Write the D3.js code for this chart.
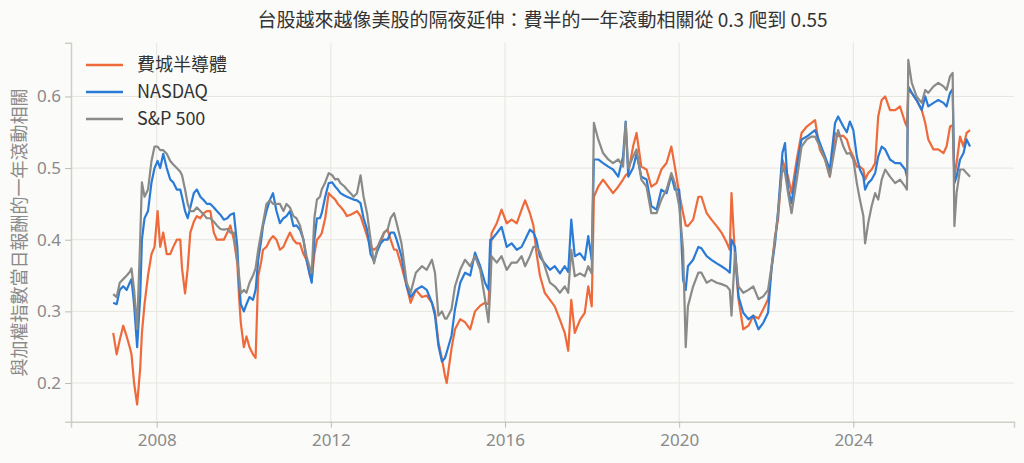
<!DOCTYPE html>
<html>
<head>
<meta charset="utf-8">
<script src="https://cdn.jsdelivr.net/npm/d3@7"></script>
<style>
  html, body { margin: 0; padding: 0; background: #fbfbf9; }
  svg { display: block; font-family: "Noto Sans CJK TC", "Noto Sans", sans-serif; }
</style>
</head>
<body>
<div class="chart"></div>
<script>
// decimal years
var years = [
  2007.00, 2007.08, 2007.15, 2007.23, 2007.31, 2007.38, 2007.42, 2007.48, 2007.55, 2007.62,
  2007.66, 2007.72, 2007.80, 2007.88, 2007.95, 2008.02, 2008.08, 2008.15, 2008.23, 2008.31,
  2008.38, 2008.46, 2008.54, 2008.58, 2008.65, 2008.71, 2008.77, 2008.85, 2008.92, 2009.00,
  2009.08, 2009.15, 2009.23, 2009.31, 2009.38, 2009.46, 2009.54, 2009.62, 2009.69, 2009.77,
  2009.85, 2009.89, 2009.93, 2010.00, 2010.06, 2010.13, 2010.21, 2010.27, 2010.33, 2010.40,
  2010.44, 2010.52, 2010.60, 2010.67, 2010.75, 2010.83, 2010.91, 2010.98, 2011.06, 2011.14,
  2011.21, 2011.29, 2011.37, 2011.44, 2011.52, 2011.56, 2011.62, 2011.68, 2011.75, 2011.79,
  2011.87, 2011.95, 2012.03, 2012.10, 2012.16, 2012.22, 2012.30, 2012.37, 2012.45, 2012.52,
  2012.60, 2012.68, 2012.75, 2012.83, 2012.91, 2012.99, 2013.07, 2013.14, 2013.22, 2013.30,
  2013.37, 2013.45, 2013.51, 2013.62, 2013.74, 2013.83, 2013.95, 2014.09, 2014.20, 2014.32,
  2014.39, 2014.47, 2014.55, 2014.62, 2014.66, 2014.77, 2014.85, 2014.97, 2015.08, 2015.20,
  2015.31, 2015.43, 2015.54, 2015.62, 2015.66, 2015.69, 2015.81, 2015.92, 2016.04, 2016.15,
  2016.27, 2016.38, 2016.46, 2016.57, 2016.65, 2016.72, 2016.80, 2016.91, 2017.03, 2017.14,
  2017.26, 2017.37, 2017.45, 2017.52, 2017.60, 2017.72, 2017.83, 2017.91, 2017.99, 2018.04,
  2018.14, 2018.25, 2018.37, 2018.48, 2018.60, 2018.71, 2018.77, 2018.83, 2018.94, 2019.02,
  2019.13, 2019.25, 2019.36, 2019.48, 2019.59, 2019.71, 2019.82, 2019.90, 2020.00, 2020.09,
  2020.15, 2020.20, 2020.32, 2020.44, 2020.51, 2020.63, 2020.74, 2020.86, 2020.97, 2021.09,
  2021.16, 2021.20, 2021.28, 2021.36, 2021.47, 2021.59, 2021.70, 2021.82, 2021.93, 2022.04,
  2022.12, 2022.20, 2022.27, 2022.37, 2022.43, 2022.50, 2022.58, 2022.70, 2022.81, 2022.93,
  2023.04, 2023.12, 2023.23, 2023.35, 2023.46, 2023.58, 2023.65, 2023.77, 2023.85, 2023.92,
  2024.00, 2024.08, 2024.15, 2024.23, 2024.27, 2024.34, 2024.42, 2024.50, 2024.57, 2024.65,
  2024.73, 2024.84, 2024.96, 2025.07, 2025.19, 2025.23, 2025.26, 2025.34, 2025.45, 2025.57,
  2025.65, 2025.72, 2025.84, 2025.95, 2026.07, 2026.14, 2026.22, 2026.28, 2026.32, 2026.37,
  2026.45, 2026.53, 2026.60, 2026.68
];

// 費城半導體
var sox = [
  0.270, 0.240, 0.260, 0.280, 0.265, 0.250, 0.240, 0.200, 0.170, 0.220,
  0.270, 0.310, 0.350, 0.380, 0.390, 0.440, 0.390, 0.410, 0.380, 0.380,
  0.390, 0.400, 0.400, 0.360, 0.325, 0.360, 0.410, 0.425, 0.433, 0.430,
  0.437, 0.440, 0.440, 0.410, 0.400, 0.400, 0.400, 0.410, 0.420, 0.400,
  0.367, 0.320, 0.284, 0.250, 0.265, 0.250, 0.240, 0.235, 0.349, 0.370,
  0.386, 0.390, 0.400, 0.405, 0.400, 0.386, 0.390, 0.400, 0.410, 0.400,
  0.395, 0.395, 0.380, 0.372, 0.350, 0.344, 0.380, 0.400, 0.405, 0.409,
  0.430, 0.465, 0.460, 0.456, 0.450, 0.446, 0.440, 0.433, 0.435, 0.437,
  0.440, 0.433, 0.420, 0.405, 0.390, 0.386, 0.390, 0.395, 0.410, 0.414,
  0.400, 0.386, 0.386, 0.363, 0.335, 0.312, 0.330, 0.320, 0.322, 0.312,
  0.300, 0.257, 0.234, 0.210, 0.200, 0.248, 0.275, 0.289, 0.285, 0.275,
  0.300, 0.308, 0.312, 0.310, 0.360, 0.409, 0.423, 0.442, 0.423, 0.428,
  0.423, 0.442, 0.455, 0.437, 0.420, 0.382, 0.350, 0.326, 0.316, 0.307,
  0.288, 0.270, 0.245, 0.316, 0.270, 0.288, 0.298, 0.335, 0.307, 0.460,
  0.474, 0.484, 0.474, 0.465, 0.474, 0.484, 0.490, 0.493, 0.530, 0.549,
  0.502, 0.498, 0.474, 0.479, 0.498, 0.507, 0.530, 0.502, 0.465, 0.437,
  0.420, 0.419, 0.428, 0.460, 0.460, 0.437, 0.428, 0.419, 0.410, 0.396,
  0.386, 0.465, 0.377, 0.317, 0.275, 0.280, 0.294, 0.290, 0.303, 0.317,
  0.360, 0.405, 0.428, 0.512, 0.500, 0.488, 0.465, 0.512, 0.549, 0.558,
  0.563, 0.567, 0.526, 0.512, 0.488, 0.549, 0.545, 0.545, 0.540, 0.526,
  0.516, 0.502, 0.502, 0.498, 0.484, 0.493, 0.498, 0.507, 0.572, 0.595,
  0.600, 0.581, 0.581, 0.586, 0.563, 0.558, 0.609, 0.605, 0.595, 0.581,
  0.563, 0.540, 0.526, 0.526, 0.521, 0.530, 0.558, 0.560, 0.488, 0.507,
  0.544, 0.530, 0.549, 0.553
];

// NASDAQ
var nasdaq = [
  0.312, 0.310, 0.330, 0.335, 0.330, 0.340, 0.345, 0.310, 0.250, 0.320,
  0.400, 0.430, 0.440, 0.480, 0.500, 0.510, 0.500, 0.520, 0.500, 0.484,
  0.480, 0.470, 0.470, 0.460, 0.440, 0.430, 0.445, 0.465, 0.470, 0.460,
  0.455, 0.450, 0.450, 0.445, 0.440, 0.435, 0.428, 0.430, 0.435, 0.437,
  0.390, 0.340, 0.310, 0.300, 0.310, 0.320, 0.316, 0.330, 0.372, 0.400,
  0.419, 0.440, 0.456, 0.465, 0.440, 0.423, 0.430, 0.433, 0.440, 0.419,
  0.420, 0.414, 0.400, 0.372, 0.350, 0.340, 0.400, 0.430, 0.430, 0.437,
  0.460, 0.479, 0.480, 0.474, 0.470, 0.465, 0.462, 0.460, 0.458, 0.456,
  0.455, 0.451, 0.430, 0.414, 0.380, 0.370, 0.385, 0.395, 0.400, 0.400,
  0.410, 0.410, 0.400, 0.377, 0.335, 0.320, 0.330, 0.335, 0.330, 0.312,
  0.294, 0.252, 0.230, 0.235, 0.243, 0.266, 0.303, 0.340, 0.354, 0.350,
  0.382, 0.363, 0.340, 0.330, 0.400, 0.400, 0.409, 0.418, 0.390, 0.395,
  0.386, 0.390, 0.400, 0.414, 0.410, 0.400, 0.376, 0.367, 0.358, 0.363,
  0.353, 0.363, 0.355, 0.428, 0.377, 0.381, 0.372, 0.405, 0.372, 0.512,
  0.512, 0.507, 0.502, 0.498, 0.488, 0.516, 0.565, 0.488, 0.500, 0.520,
  0.488, 0.484, 0.447, 0.442, 0.470, 0.465, 0.490, 0.470, 0.470, 0.344,
  0.330, 0.363, 0.372, 0.390, 0.388, 0.377, 0.372, 0.367, 0.363, 0.358,
  0.354, 0.400, 0.390, 0.321, 0.298, 0.289, 0.294, 0.275, 0.284, 0.298,
  0.360, 0.395, 0.440, 0.521, 0.535, 0.470, 0.451, 0.502, 0.540, 0.544,
  0.549, 0.553, 0.535, 0.516, 0.498, 0.563, 0.572, 0.558, 0.550, 0.565,
  0.553, 0.516, 0.498, 0.488, 0.470, 0.479, 0.484, 0.493, 0.516, 0.530,
  0.526, 0.512, 0.507, 0.507, 0.498, 0.488, 0.614, 0.605, 0.595, 0.581,
  0.600, 0.586, 0.591, 0.595, 0.591, 0.586, 0.605, 0.610, 0.479, 0.488,
  0.512, 0.521, 0.540, 0.530
];

// S&P 500
var spx = [
  0.324, 0.320, 0.340, 0.345, 0.350, 0.355, 0.360, 0.330, 0.275, 0.400,
  0.480, 0.460, 0.470, 0.510, 0.530, 0.530, 0.525, 0.525, 0.520, 0.510,
  0.505, 0.500, 0.495, 0.490, 0.470, 0.450, 0.440, 0.440, 0.445, 0.440,
  0.435, 0.430, 0.430, 0.425, 0.420, 0.415, 0.414, 0.415, 0.410, 0.410,
  0.370, 0.350, 0.325, 0.330, 0.326, 0.340, 0.350, 0.360, 0.386, 0.410,
  0.423, 0.450, 0.455, 0.450, 0.450, 0.450, 0.440, 0.450, 0.445, 0.433,
  0.430, 0.420, 0.400, 0.377, 0.360, 0.354, 0.430, 0.456, 0.460, 0.470,
  0.480, 0.493, 0.490, 0.484, 0.485, 0.479, 0.475, 0.470, 0.465, 0.460,
  0.465, 0.490, 0.460, 0.437, 0.400, 0.367, 0.390, 0.400, 0.410, 0.414,
  0.430, 0.437, 0.423, 0.395, 0.340, 0.326, 0.354, 0.363, 0.358, 0.372,
  0.354, 0.294, 0.300, 0.290, 0.290, 0.303, 0.335, 0.358, 0.372, 0.363,
  0.377, 0.358, 0.317, 0.285, 0.330, 0.377, 0.368, 0.377, 0.358, 0.368,
  0.368, 0.377, 0.363, 0.377, 0.390, 0.390, 0.383, 0.363, 0.340, 0.335,
  0.326, 0.335, 0.326, 0.386, 0.349, 0.353, 0.349, 0.363, 0.353, 0.563,
  0.540, 0.521, 0.512, 0.507, 0.512, 0.502, 0.563, 0.500, 0.516, 0.526,
  0.484, 0.474, 0.437, 0.437, 0.456, 0.470, 0.493, 0.479, 0.447, 0.386,
  0.250, 0.307, 0.335, 0.354, 0.354, 0.340, 0.344, 0.340, 0.338, 0.335,
  0.330, 0.294, 0.382, 0.335, 0.326, 0.330, 0.335, 0.317, 0.321, 0.330,
  0.363, 0.400, 0.437, 0.502, 0.493, 0.465, 0.437, 0.484, 0.530, 0.540,
  0.544, 0.544, 0.530, 0.512, 0.488, 0.530, 0.553, 0.530, 0.520, 0.521,
  0.512, 0.479, 0.456, 0.433, 0.395, 0.423, 0.447, 0.465, 0.456, 0.484,
  0.498, 0.488, 0.479, 0.484, 0.474, 0.470, 0.651, 0.619, 0.600, 0.591,
  0.609, 0.605, 0.614, 0.619, 0.614, 0.609, 0.628, 0.633, 0.419, 0.465,
  0.498, 0.498, 0.493, 0.488
];

var seriesNames = ["費城半導體", "NASDAQ", "S&P 500"];
var seriesColors = ["#ee6a3a", "#2a7bd6", "#8a8a88"];
var yTicks = [0.2, 0.3, 0.4, 0.5, 0.6];

var svgWidth = 1024;
var svgHeight = 463;

var margin = { top: 42.7, right: 10, bottom: 41.3, left: 71 };
var width = svgWidth - margin.left - margin.right;
var height = svgHeight - margin.top - margin.bottom;

var svg = d3.select(".chart")
  .append("svg")
  .attr("width", svgWidth)
  .attr("height", svgHeight);

svg.append("rect")
  .attr("width", svgWidth)
  .attr("height", svgHeight)
  .attr("fill", "#fbfbf9");

var chartGroup = svg.append("g")
  .attr("transform", `translate(${margin.left}, ${margin.top})`);

// decimal year -> Date
function toDate(y) {
  var yr = Math.floor(y);
  var start = new Date(yr, 0, 1);
  var end = new Date(yr + 1, 0, 1);
  return new Date(start.getTime() + (y - yr) * (end - start));
}

var dates = years.map(toDate);

var xScale = d3.scaleTime()
  .domain([toDate(2006.03), toDate(2027.69)])
  .range([0, width]);

var yScale = d3.scaleLinear()
  .domain([0.146, 0.675])
  .range([height, 0]);

var xTickVals = xScale.ticks(d3.timeYear.every(4));

// grid
chartGroup.append("g")
  .selectAll("line")
  .data(yTicks)
  .enter()
  .append("line")
  .attr("x1", 0)
  .attr("x2", width)
  .attr("y1", d => yScale(d))
  .attr("y2", d => yScale(d))
  .attr("stroke", "#e6e5df")
  .attr("stroke-width", 1);

chartGroup.append("g")
  .selectAll("line")
  .data(xTickVals)
  .enter()
  .append("line")
  .attr("x1", d => xScale(d))
  .attr("x2", d => xScale(d))
  .attr("y1", 0)
  .attr("y2", height)
  .attr("stroke", "#e6e5df")
  .attr("stroke-width", 1);

// axes
var bottomAxis = d3.axisBottom(xScale)
  .tickValues(xTickVals)
  .tickFormat(d3.timeFormat("%Y"))
  .tickSize(6)
  .tickPadding(6);

var leftAxis = d3.axisLeft(yScale)
  .tickValues(yTicks)
  .tickFormat(d3.format(".1f"))
  .tickSize(6)
  .tickPadding(4);

var xAxis = chartGroup.append("g")
  .attr("transform", `translate(0, ${height})`)
  .call(bottomAxis);

var yAxis = chartGroup.append("g")
  .call(leftAxis);

[xAxis, yAxis].forEach(function(ax) {
  ax.select(".domain").attr("stroke", "#cfcec6").attr("stroke-width", 1.5);
  ax.selectAll(".tick line").attr("stroke", "#bdbcb4");
  ax.selectAll("text")
    .attr("fill", "#8a8a8a")
    .style("font-size", "17px")
    .style("font-family", "'Noto Sans', 'Noto Sans CJK TC', sans-serif");
});

// lines
var allValues = [sox, nasdaq, spx];

var line = d3.line()
  .x((d, i) => xScale(dates[i]))
  .y(d => yScale(d));

allValues.forEach(function(vals, k) {
  chartGroup.append("path")
    .datum(vals)
    .attr("fill", "none")
    .attr("stroke", seriesColors[k])
    .attr("stroke-width", 2.2)
    .attr("stroke-linejoin", "round")
    .attr("d", line);
});

// legend
var legend = svg.append("g")
  .attr("transform", "translate(86, 65)");

seriesNames.forEach(function(name, k) {
  legend.append("line")
    .attr("x1", 0)
    .attr("x2", 37)
    .attr("y1", k * 27)
    .attr("y2", k * 27)
    .attr("stroke", seriesColors[k])
    .attr("stroke-width", 2.5);
  legend.append("text")
    .attr("x", 51)
    .attr("y", k * 27)
    .attr("dy", "0.35em")
    .attr("fill", "#333")
    .style("font-size", "18px")
    .text(name);
});

// title
svg.append("text")
  .attr("x", margin.left + width / 2)
  .attr("y", 27)
  .attr("text-anchor", "middle")
  .attr("fill", "#333")
  .style("font-size", "19px")
  .text("台股越來越像美股的隔夜延伸：費半的一年滾動相關從 0.3 爬到 0.55");

// y label
svg.append("text")
  .attr("transform", `translate(26, ${margin.top + yScale(0.41)}) rotate(-90)`)
  .attr("text-anchor", "middle")
  .attr("fill", "#8a8a8a")
  .style("font-size", "18px")
  .text("與加權指數當日報酬的一年滾動相關");
</script>
</body>
</html>
